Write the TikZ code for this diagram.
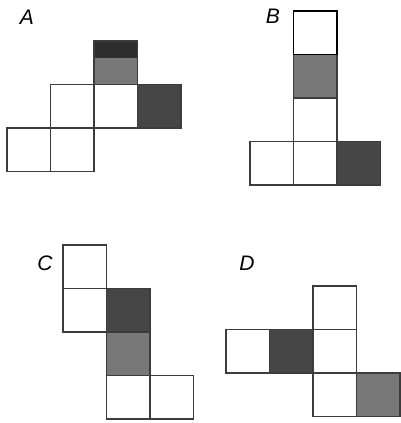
\documentclass[tikz,border=0pt]{standalone}
\usepackage{fontspec}
\setsansfont{Liberation Sans}
\usepackage{tikz}
\usetikzlibrary{positioning, calc}
\definecolor{nfLine}{RGB}{60,60,60}
\definecolor{nfDark}{RGB}{70,70,70}
\definecolor{nfMid}{RGB}{120,120,120}
\definecolor{nfBand}{RGB}{45,45,45}

\begin{document}
\begin{tikzpicture}[x=1pt,y=-1pt,font=\sffamily,node distance=0pt,
  sq/.style={draw=nfLine,line width=1.8pt,minimum size=43.5pt,
             inner sep=0pt,outer sep=0pt,anchor=north west},
  dk/.style={sq,fill=nfDark},
  md/.style={sq,fill=nfMid},
  band/.style={md,path picture={\fill[nfBand] (path picture bounding box.north west)
     rectangle ($(path picture bounding box.north east)!0.4!(path picture bounding box.south east)$);}},
  lbl/.style={font=\fontsize{21}{24}\selectfont\sffamily\itshape,inner sep=0pt}]
\useasboundingbox (0,0) rectangle (400,423);

% ===== Net A =====
\node[lbl] (la) at (27,17) {A};
\node[sq] (a1) at (7,128) {};
\node[sq,right=of a1] (a2) {};
\node[sq,above=of a2] (a3) {};
\node[sq,right=of a3] (a4) {};
\node[dk,right=of a4] (a5) {};
\node[band,above=of a4] (a6) {};

% ===== Net B =====
\node[lbl] (lb) at (273,16) {B};
\node[sq] (b1) at (250,141.5) {};
\node[sq,right=of b1] (b2) {};
\node[dk,right=of b2] (b3) {};
\node[sq,above=of b2] (b4) {};
\node[md,above=of b4] (b5) {};
\node[sq,draw=black,above=of b5] (b6) {};

% ===== Net C =====
\node[lbl] (lc) at (45,263) {C};
\node[sq] (c1) at (63,245) {};
\node[sq,below=of c1] (c2) {};
\node[dk,right=of c2] (c3) {};
\node[md,below=of c3] (c4) {};
\node[sq,below=of c4] (c5) {};
\node[sq,right=of c5] (c6) {};

% ===== Net D =====
\node[lbl] (ld) at (247,263) {D};
\node[sq] (d1) at (313,286) {};
\node[sq,below=of d1] (d2) {};
\node[dk,left=of d2] (d3) {};
\node[sq,left=of d3] (d4) {};
\node[sq,below=of d2] (d5) {};
\node[md,right=of d5] (d6) {};
\end{tikzpicture}
\end{document}
